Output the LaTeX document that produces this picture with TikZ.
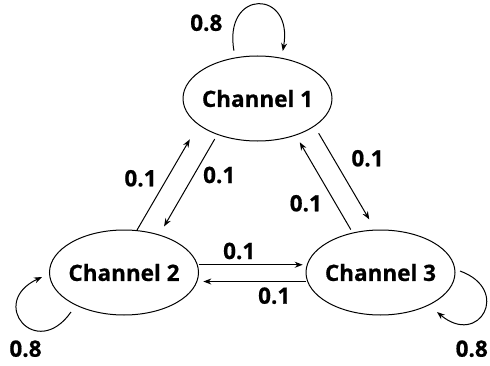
\documentclass[tikz,border=0pt]{standalone}
\usepackage{fontspec}
\setmainfont{Open Sans}[BoldFeatures={FakeBold=0.6}]
\usetikzlibrary{shapes.geometric,arrows.meta}
\begin{document}
\begin{tikzpicture}[x=1pt,y=1pt,
  chan/.style={ellipse,draw,line width=1pt,minimum width=149pt,minimum height=85pt,inner sep=0pt},
  arr/.style={line width=1pt,-{Stealth[length=8pt,width=6pt]}},
  lab/.style={font=\bfseries\fontsize{22.5}{27}\selectfont,inner sep=0pt}]
  \useasboundingbox (0,0) rectangle (490,365);
  \node[chan,label={[lab]center:Channel 1}] (ch1) at (257.5,266.5) {};
  \node[chan,label={[lab]center:Channel 2}] (ch2) at (124,92.5) {};
  \node[chan,label={[lab]center:Channel 3}] (ch3) at (380.5,92.5) {};
  % transition probabilities
  \node[lab] (p11) at (206.3,342.2) {0.8};
  \node[lab] (p22) at (25.5,16.3) {0.8};
  \node[lab] (p33) at (471.7,16.3) {0.8};
  \node[lab] (p21) at (140.5,186.7) {0.1};
  \node[lab] (p12) at (219.2,190) {0.1};
  \node[lab] (p13) at (367.5,206.7) {0.1};
  \node[lab] (p31) at (305.8,161.7) {0.1};
  \node[lab] (p23) at (239.2,114) {0.1};
  \node[lab] (p32) at (274.2,69.3) {0.1};
  \draw[arr,shorten >=16.8pt] (ch2.73) -- (ch1.204);
  \draw[arr,shorten <=5pt,shorten >=9.4pt] (ch1.222) -- (ch2.47);
  \draw[arr,shorten <=8pt,shorten >=11.8pt] (ch1.334) -- (ch3.97);
  \draw[arr,shorten <=3.5pt,shorten >=7.9pt] (ch3.125) -- (ch1.316);
  \draw[arr,shorten <=1.5pt,shorten >=4pt] (ch2.6) -- (ch3.174);
  \draw[arr,shorten <=1.5pt,shorten >=6pt] (ch3.187) -- (ch2.353);
  % self loops
  \draw[arr] ([yshift=7pt]ch1.120) to[out=100,in=80,looseness=3.3] ([yshift=7pt]ch1.58);
  \draw[arr] ([shift={(-53,-39.5)}]ch2.center) to[out=235,in=205,looseness=3.4] ([shift={(-82,-4.5)}]ch2.center);
  \draw[arr] ([shift={(79.5,1.5)}]ch3.center) to[out=-20,in=320,looseness=3] ([shift={(56.5,-39.5)}]ch3.center);
\end{tikzpicture}
\end{document}
